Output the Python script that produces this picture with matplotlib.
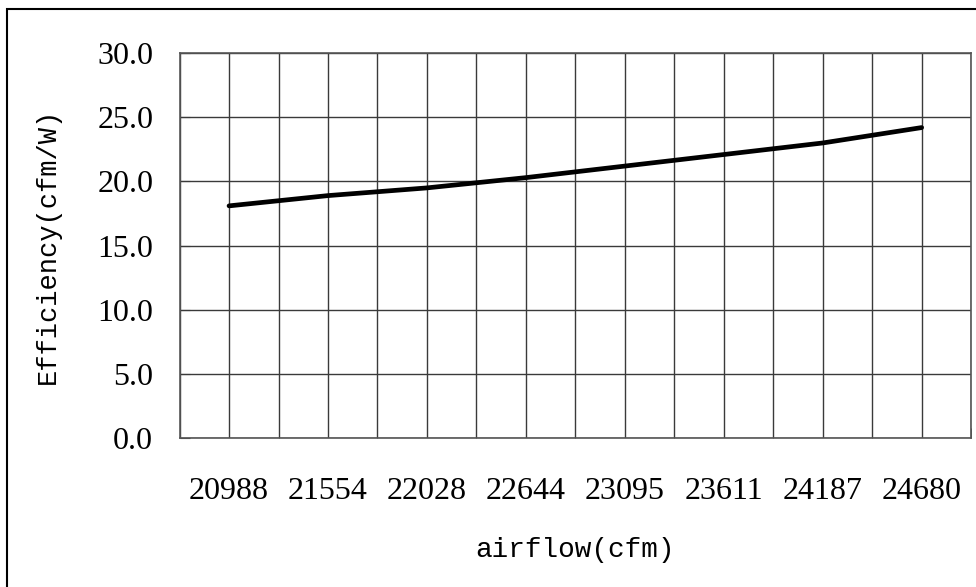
import matplotlib
matplotlib.use("Agg")
import matplotlib.pyplot as plt
from matplotlib.patches import Rectangle
from matplotlib.ticker import MultipleLocator, FormatStrFormatter

# data
airflow = ["20988", "21554", "22028", "22644", "23095", "23611", "24187", "24680"]
efficiency = [18.1, 18.9, 19.5, 20.3, 21.2, 22.1, 23.0, 24.2]

# config
c_font = "Liberation Serif"
c_label_font = "Liberation Mono"
c_grid = "#3a3a3a"

plt.rcParams["font.family"] = [c_font, "DejaVu Serif"]

fig = plt.figure(figsize=(9.76, 5.87), dpi=100)
ax = fig.add_axes([0.184, 0.2535, 0.811, 0.656])

# outer chart frame (only top and left sides fall inside the picture)
fig.patches.append(Rectangle((7 / 976, -0.1), 1.2, 1 - 9 / 587 + 0.1,
                             transform=fig.transFigure, fill=False,
                             edgecolor="black", linewidth=1.5))

x = list(range(len(airflow)))
ax.plot(x, efficiency, color="black", linewidth=3.4,
        solid_joinstyle="round", solid_capstyle="round", zorder=3)

ax.set_xlim(-0.5, len(airflow) - 0.5)
ax.set_ylim(0, 30)

# category boundaries and centres both carry vertical grid lines
ax.set_xticks(x)
ax.set_xticklabels(airflow)
ax.set_xticks([i - 0.5 for i in range(len(airflow) + 1)], minor=True)
ax.yaxis.set_major_locator(MultipleLocator(5))
ax.yaxis.set_major_formatter(FormatStrFormatter("%.1f"))

ax.grid(True, which="both", axis="x", color=c_grid, linewidth=1.0)
ax.grid(True, which="major", axis="y", color=c_grid, linewidth=1.0)
ax.set_axisbelow(True)

ax.tick_params(axis="x", which="major", length=0, pad=28, labelsize=23)
ax.tick_params(axis="x", which="minor", direction="in", length=7, color=c_grid)
ax.tick_params(axis="y", direction="in", length=7, pad=19, color=c_grid, labelsize=23)

for side in ["top", "right", "bottom", "left"]:
    ax.spines[side].set_color("#555555")
    ax.spines[side].set_linewidth(1.2)

ax.set_xlabel("airflow(cfm)", fontfamily=c_label_font, fontsize=20, labelpad=22)
ax.set_ylabel("Efficiency(cfm/W)", fontfamily=c_label_font, fontsize=19.5, labelpad=26)

fig.savefig("out.png", dpi=100)
